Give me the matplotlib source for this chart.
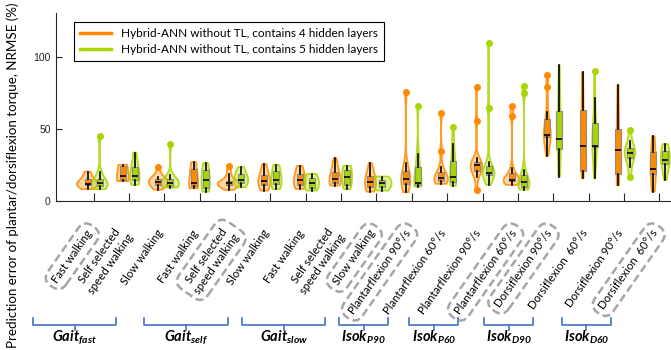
"""Violin + box plot of NRMSE for the two hybrid-ANN variants across test conditions."""

import matplotlib

matplotlib.use("Agg")

import matplotlib.pyplot as plt  # noqa: E402
import matplotlib.transforms as mtransforms  # noqa: E402
import numpy as np  # noqa: E402
from matplotlib.lines import Line2D  # noqa: E402

plt.rcParams["font.family"] = ["Lato", "DejaVu Sans"]
plt.rcParams["mathtext.fontset"] = "custom"
plt.rcParams["mathtext.rm"] = "Lato"
plt.rcParams["mathtext.it"] = "Lato:italic"
plt.rcParams["mathtext.bf"] = "Lato:bold"
plt.rcParams["mathtext.bfit"] = "Lato:italic:bold"

CATEGORIES = [
    "Fast walking", "Self selected\nspeed walking", "Slow walking",
    "Fast walking", "Self selected\nspeed walking", "Slow walking",
    "Fast walking", "Self selected\nspeed walking", "Slow walking",
    "Plantarflexion 90°/s", "Plantarflexion 60°/s",
    "Plantarflexion 90°/s", "Plantarflexion 60°/s",
    "Dorsiflexion 90°/s", "Dorsiflexion  60°/s",
    "Dorsiflexion 90°/s", "Dorsiflexion  60°/s",
]
# conditions that match the condition the model was trained for
HIGHLIGHTED = [0, 4, 8, 9, 12, 13, 16]

GROUP_NAMES = ["Gait", "Gait", "Gait", "Isok", "Isok", "Isok", "Isok"]
GROUP_SUBS = ["fast", "self", "slow", "P90", "P60", "D90", "D60"]

SERIES_LABELS = [
    "Hybrid-ANN without TL, contains 4 hidden layers",
    "Hybrid-ANN without TL, contains 5 hidden layers",
]

# NRMSE (%) per subject, one list per condition
NRMSE_4_LAYERS = [
    [8.2, 10.5, 11.0, 11.5, 11.8, 12.2, 13.0, 15.8, 17.5, 20.4],
    [13.8, 14.0, 14.3, 14.8, 16.6, 17.8, 23.5, 24.8, 25.0, 25.2],
    [7.9, 10.5, 11.0, 11.8, 13.0, 14.0, 15.0, 15.8, 17.0, 23.9],
    [8.8, 9.5, 10.0, 10.5, 12.3, 13.3, 19.0, 23.0, 25.0, 27.0],
    [7.7, 10.0, 10.5, 11.5, 12.0, 12.6, 13.5, 14.4, 19.0, 24.4],
    [7.2, 10.0, 11.0, 12.0, 13.5, 14.3, 16.5, 18.6, 22.0, 25.6],
    [8.4, 10.0, 10.5, 11.5, 14.0, 15.2, 17.5, 19.0, 22.0, 24.4],
    [10.7, 11.8, 12.2, 12.8, 14.5, 15.7, 18.0, 21.0, 24.0, 29.8],
    [6.5, 9.0, 9.4, 10.2, 13.0, 14.0, 16.0, 17.8, 21.0, 26.3],
    [6.1, 10.0, 11.5, 13.0, 14.5, 16.1, 19.0, 21.5, 26.3, 75.8],
    [11.9, 13.0, 13.3, 13.8, 15.0, 16.0, 16.6, 18.0, 19.0, 23.9, 34.9, 61.2],
    [7.7, 17.0, 19.5, 20.5, 22.0, 24.0, 25.1, 25.8, 26.3, 27.0, 29.8, 55.8, 79.3],
    [11.2, 12.5, 13.5, 14.0, 14.2, 14.3, 14.5, 17.0, 18.0, 22.7, 59.3, 66.2],
    [31.4, 40.0, 44.0, 45.0, 45.8, 46.0, 46.2, 50.0, 55.0, 62.0, 79.7, 87.9],
    [15.8, 18.0, 19.5, 24.0, 36.0, 40.8, 60.0, 64.7, 78.0, 89.7],
    [10.8, 15.0, 17.5, 22.0, 34.0, 37.0, 45.0, 51.5, 65.0, 80.6],
    [6.5, 13.0, 17.5, 22.0, 22.0, 22.4, 30.0, 35.3, 40.0, 45.0],
]
NRMSE_5_LAYERS = [
    [8.2, 9.5, 10.0, 10.5, 12.3, 13.3, 14.0, 15.7, 20.4, 44.9],
    [11.2, 13.5, 14.2, 14.6, 16.8, 18.0, 22.0, 24.3, 27.0, 33.7],
    [9.3, 9.8, 10.0, 10.4, 12.3, 13.3, 14.2, 15.3, 18.0, 39.7],
    [6.5, 8.0, 8.6, 9.5, 14.0, 14.8, 19.5, 21.8, 24.0, 26.3],
    [9.5, 11.5, 12.0, 13.5, 14.2, 15.0, 17.0, 19.2, 21.0, 23.5],
    [8.2, 10.5, 11.4, 12.0, 14.0, 15.2, 19.0, 21.5, 23.5, 25.1],
    [7.2, 8.5, 8.8, 9.5, 12.0, 13.6, 15.0, 16.0, 17.5, 18.8],
    [8.2, 10.5, 11.0, 11.8, 16.0, 18.0, 20.5, 22.0, 23.5, 24.4],
    [7.2, 8.8, 9.3, 10.0, 11.8, 12.8, 14.0, 14.8, 16.0, 17.0],
    [10.0, 10.8, 11.0, 11.6, 12.0, 12.6, 20.0, 25.2, 32.5, 66.2],
    [10.5, 12.0, 13.0, 14.0, 15.5, 16.5, 22.0, 26.0, 29.8, 39.5, 51.8],
    [11.2, 15.0, 17.0, 18.0, 19.0, 19.4, 20.0, 22.0, 23.5, 27.4, 64.6, 110.0],
    [7.9, 9.0, 9.5, 10.0, 12.5, 12.8, 13.2, 14.0, 17.0, 21.6, 75.5, 80.4],
    [17.0, 30.0, 35.0, 41.0, 42.0, 44.0, 58.0, 64.5, 80.0, 94.4],
    [15.8, 30.0, 37.0, 38.0, 38.2, 38.4, 45.0, 52.0, 56.0, 72.0, 90.2],
    [17.0, 23.9, 28.5, 30.8, 33.0, 33.7, 34.5, 35.8, 37.5, 41.8, 49.3],
    [14.6, 22.0, 25.0, 28.0, 28.0, 28.6, 33.0, 35.1, 37.0, 39.6],
]

ORANGE = "#FF8A00"
GREEN = "#A8D600"
BRACKET_BLUE = "#4472C4"
HIGHLIGHT_GREY = "#A6A6A6"

# bracket extent under each group, in category units
BRACKET_SPANS = [(-1.70, 0.64), (1.43, 3.79), (4.21, 6.55), (6.93, 8.34),
                 (8.92, 10.32), (11.04, 12.44), (13.24, 14.63)]


def density(values, grid):
    """Gaussian kernel density, bandwidth a bit wider than Silverman's rule."""
    values = np.asarray(values, dtype=float)
    q1, q3 = np.percentile(values, [25, 75])
    spread = min(values.std(ddof=1), (q3 - q1) / 1.34)
    bw = 1.4 * spread * len(values) ** -0.2
    z = (grid[:, None] - values[None, :]) / bw
    return np.exp(-0.5 * z**2).sum(axis=1) / (len(values) * bw * np.sqrt(2 * np.pi))


fig = plt.figure(figsize=(6.71, 3.5), dpi=100)
ax = fig.add_axes([0.083, 0.426, 0.917, 0.537])

positions = np.arange(len(CATEGORIES))
series = [
    (NRMSE_4_LAYERS, ORANGE, -0.17),
    (NRMSE_5_LAYERS, GREEN, 0.17),
]

# violins share one width scale so wide spreads come out thin
curves = []
for data, color, shift in series:
    for pos, vals in zip(positions, data):
        grid = np.linspace(min(vals), max(vals), 300)
        curves.append((pos + shift, grid, density(vals, grid), color))
peak = max(dens.max() for _, _, dens, _ in curves)
for x, grid, dens, color in curves:
    half = dens / peak * 0.32
    ax.fill_betweenx(grid, x - half, x + half, facecolor=color, alpha=0.35,
                     edgecolor="none", zorder=1)
    ax.fill_betweenx(grid, x - half, x + half, facecolor="none", edgecolor=color,
                     alpha=0.85, linewidth=1.3, zorder=1)

for data, color, shift in series:
    ax.boxplot(
        data,
        positions=positions + shift,
        widths=0.17,
        whis=1.5,
        patch_artist=True,
        showcaps=False,
        manage_ticks=False,
        boxprops=dict(facecolor=color, edgecolor="#8C8C8C", linewidth=0.8),
        medianprops=dict(color="black", linewidth=1.2),
        whiskerprops=dict(color="black", linewidth=1.2),
        flierprops=dict(marker="o", markerfacecolor=color, markeredgecolor=color,
                        markersize=4),
        zorder=3,
    )

ax.set_xlim(-1.07, 16.33)
ax.set_ylim(0, 131)
ax.set_yticks([0, 50, 100])
ax.set_xticks(positions)
ax.set_xticklabels([])
for label in ax.get_yticklabels():
    label.set_fontfamily("Liberation Sans")
ax.tick_params(axis="y", direction="in", length=4, labelsize=7.5, colors="#262626")
ax.tick_params(axis="x", direction="in", length=6, color="#262626")
for side in ("top", "right"):
    ax.spines[side].set_visible(False)
for side in ("left", "bottom"):
    ax.spines[side].set_color("#262626")
    ax.spines[side].set_linewidth(0.8)

# rotated condition labels, dashed frame on the matching conditions
label_trans = mtransforms.blended_transform_factory(ax.transData, ax.transAxes)
for pos, text in zip(positions, CATEGORIES):
    bbox = None
    if pos in HIGHLIGHTED:
        bbox = dict(boxstyle="round,pad=0.5,rounding_size=0.9", facecolor="none",
                    edgecolor=HIGHLIGHT_GREY, linewidth=1.8, linestyle=(0, (3.2, 1.6)))
    ax.text(pos - 0.1, -0.16, text, transform=label_trans, rotation=55,
            rotation_mode="anchor", ha="right", va="center", multialignment="center",
            fontsize=8.2, color="black", bbox=bbox, clip_on=False)

# group brackets below the labels
bracket_trans = mtransforms.blended_transform_factory(ax.transData, fig.transFigure)
for (lo, hi), name, sub in zip(BRACKET_SPANS, GROUP_NAMES, GROUP_SUBS):
    mid = (lo + hi) / 2
    ax.plot([lo, lo, hi, hi], [0.0906, 0.0714, 0.0714, 0.0906], color=BRACKET_BLUE,
            linewidth=1.2, transform=bracket_trans, clip_on=False)
    ax.plot([mid, mid], [0.0714, 0.0571], color=BRACKET_BLUE, linewidth=1.2,
            transform=bracket_trans, clip_on=False)
    ax.text(mid, 0.036, rf"$\mathbfit{{{name}}}_{{\mathbfit{{{sub}}}}}$",
            transform=bracket_trans, ha="center", va="center", fontsize=10.5)

handles = [Line2D([], [], color=color, linewidth=2.5) for _, color, _ in series]
legend = ax.legend(handles, SERIES_LABELS, loc="upper left",
                   bbox_to_anchor=(0.02, 0.985), fontsize=8.5, handlelength=2.6,
                   fancybox=False, framealpha=1, borderpad=0.55, labelspacing=0.4)
legend.get_frame().set_edgecolor("black")
legend.get_frame().set_linewidth(0.8)

fig.text(0.019, 0.5, "Prediction error of plantar/dorsiflexion torque, NRMSE (%)",
         rotation=90, ha="center", va="center", fontsize=9.6)

fig.savefig("out.png", dpi=100)
plt.close(fig)
